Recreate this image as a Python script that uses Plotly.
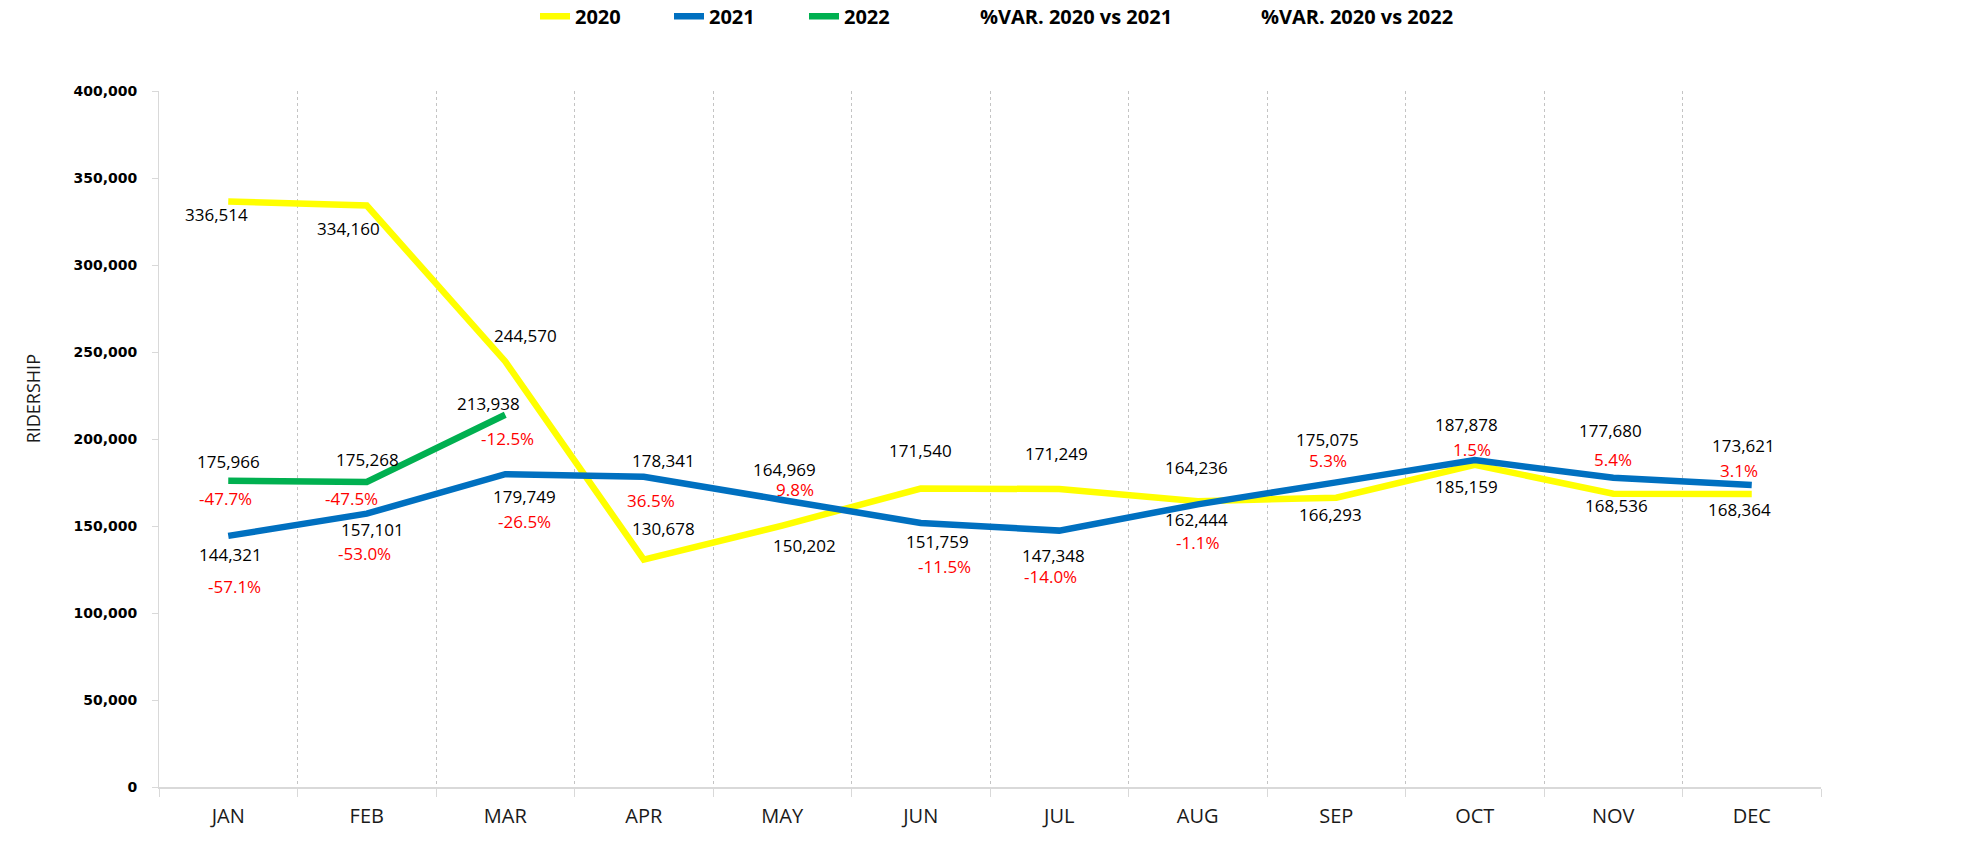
import plotly.graph_objects as go

# ---------------- data ----------------
months = ["JAN", "FEB", "MAR", "APR", "MAY", "JUN", "JUL", "AUG", "SEP", "OCT", "NOV", "DEC"]
ridership_2020 = [336514, 334160, 244570, 130678, 150202, 171540, 171249, 164236, 166293, 185159, 168536, 168364]
ridership_2021 = [144321, 157101, 179749, 178341, 164969, 151759, 147348, 162444, 175075, 187878, 177680, 173621]
ridership_2022 = [175966, 175268, 213938]
months_2022 = ["JAN", "FEB", "MAR"]
var_2020_vs_2021 = [-57.1, -53.0, -26.5, 36.5, 9.8, -11.5, -14.0, -1.1, 5.3, 1.5, 5.4, 3.1]
var_2020_vs_2022 = [-47.7, -47.5, -12.5]
y_tick_vals = [0, 50000, 100000, 150000, 200000, 250000, 300000, 350000, 400000]

# ---------------- label offsets (px: dx right, dy down) ----------------
off_2020 = [(-12, 13), (-18, 23), (20, -26), (20, -31), (22, 20), (0, -38),
            (-3, -36), (-1, -34), (-6, 17), (-8, 22), (3, 12), (-12, 15)]
off_2021 = [(2, 19), (6, 16), (19, 22), (20, -16), (2, -30), (17, 19),
            (-6, 25), (-1, 15), (-9, -43), (-8, -36), (-3, -47), (-8, -39)]
off_2022 = [(0, -19), (1, -23), (-17, -11)]
off_var21 = [(6, 51), (-2, 40), (19, 47), (7, 24), (13, -10), (24, 44),
             (-9, 46), (0, 38), (-8, -22), (-3, -11), (0, -18), (-13, -14)]
off_var22 = [(-3, 18), (-15, 16), (2, 24)]

YELLOW = "#FFFF00"
BLUE = "#0070C0"
GREEN = "#00B050"
LABEL_FONT = "Open Sans"

fig = go.Figure()
fig.add_trace(go.Scatter(x=months, y=ridership_2020, name="2020", mode="lines",
                         line=dict(color=YELLOW, width=6.5), legend="legend", hoverinfo="skip"))
fig.add_trace(go.Scatter(x=months, y=ridership_2021, name="2021", mode="lines",
                         line=dict(color=BLUE, width=6.5), legend="legend2", hoverinfo="skip"))
fig.add_trace(go.Scatter(x=months_2022, y=ridership_2022, name="2022", mode="lines",
                         line=dict(color=GREEN, width=6.5), legend="legend3", hoverinfo="skip"))
fig.add_trace(go.Scatter(x=months, y=ridership_2021, name="%VAR. 2020 vs 2021", mode="lines",
                         line=dict(color="rgba(0,0,0,0)", width=0), legend="legend4", hoverinfo="skip"))
fig.add_trace(go.Scatter(x=months_2022, y=ridership_2022, name="%VAR. 2020 vs 2022", mode="lines",
                         line=dict(color="rgba(0,0,0,0)", width=0), legend="legend5", hoverinfo="skip"))

annotations = []


def add_labels(xs, ys, texts, offs, color):
    for x, y, t, (dx, dy) in zip(xs, ys, texts, offs):
        annotations.append(dict(x=x, y=y, xref="x", yref="y", text=t, showarrow=False,
                                xanchor="center", yanchor="middle", xshift=dx, yshift=-dy,
                                font=dict(family=LABEL_FONT, size=17, color=color)))


add_labels(months, ridership_2020, [f"{v:,}" for v in ridership_2020], off_2020, "#000000")
add_labels(months, ridership_2021, [f"{v:,}" for v in ridership_2021], off_2021, "#000000")
add_labels(months_2022, ridership_2022, [f"{v:,}" for v in ridership_2022], off_2022, "#000000")
add_labels(months, ridership_2021, [f"{v:.1f}%" for v in var_2020_vs_2021], off_var21, "#FF0000")
add_labels(months_2022, ridership_2022, [f"{v:.1f}%" for v in var_2020_vs_2022], off_var22, "#FF0000")

# y-axis title placed like the original (slightly above the middle)
annotations.append(dict(x=-0.0758, y=0.557, xref="paper", yref="paper", text="RIDERSHIP",
                        textangle=-90, showarrow=False, xanchor="center", yanchor="middle",
                        font=dict(family=LABEL_FONT, size=18, color="#1a1a1a")))

legend_common = dict(orientation="h", yref="container", y=0.981, yanchor="middle",
                     xref="container", xanchor="left", bgcolor="rgba(0,0,0,0)", borderwidth=0,
                     font=dict(family="Open Sans", size=20, color="#000000", weight="bold"),
                     itemwidth=30)
legend_x = [535, 669, 804, 940, 1221]
W = 1986
fig.update_layout(
    width=W, height=856,
    margin=dict(l=159, r=165, t=91, b=69),
    paper_bgcolor="white", plot_bgcolor="white",
    showlegend=True,
    legend=dict(legend_common, x=legend_x[0] / W),
    legend2=dict(legend_common, x=legend_x[1] / W),
    legend3=dict(legend_common, x=legend_x[2] / W),
    legend4=dict(legend_common, x=legend_x[3] / W),
    legend5=dict(legend_common, x=legend_x[4] / W),
    annotations=annotations,
    xaxis=dict(type="category", categoryorder="array", categoryarray=months,
               range=[-0.5, 11.5], tickson="boundaries",
               showgrid=True, gridcolor="#C4C4C4", griddash="dot", gridwidth=1,
               showline=True, linecolor="#D9D9D9", linewidth=2,
               ticks="outside", ticklen=8, tickcolor="#D9D9D9", tickwidth=1,
               ticklabelstandoff=10,
               tickfont=dict(family="Open Sans", size=20, color="#1a1a1a"),
               fixedrange=True, zeroline=False),
    yaxis=dict(range=[0, 400000], tickvals=y_tick_vals, tickformat=",d",
               showgrid=False, zeroline=False,
               showline=True, linecolor="#D9D9D9", linewidth=1,
               ticks="outside", ticklen=6, tickcolor="#D9D9D9",
               ticklabelstandoff=12,
               tickfont=dict(family="DejaVu Sans", size=14, color="#000000", weight="bold"),
               fixedrange=True),
)

fig.write_html("out.html", config={"displayModeBar": False},
               post_script="document.body.style.margin='0';document.body.style.overflow='hidden';")
